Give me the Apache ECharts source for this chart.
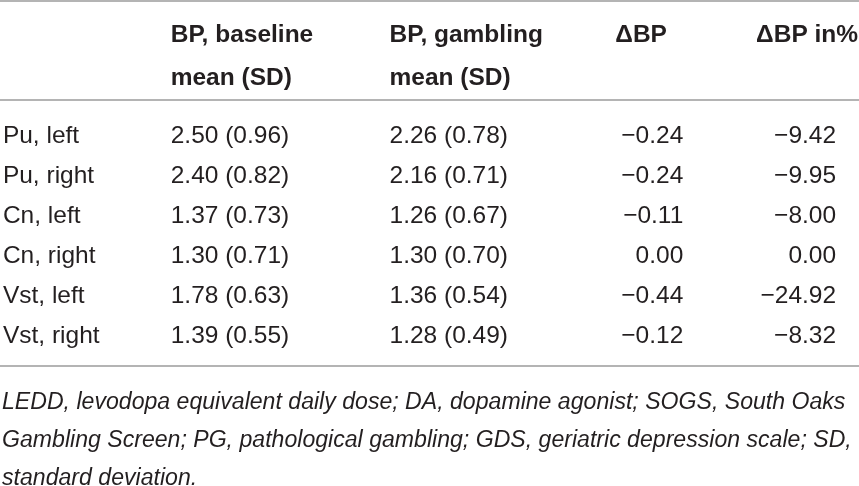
<!DOCTYPE html>
<html>
<head>
<meta charset="utf-8">
<script src="https://cdn.jsdelivr.net/npm/echarts@6/dist/echarts.min.js"></script>
<style>
html,body{margin:0;padding:0;background:#fff;}
#chart{width:859px;height:486px;}
</style>
</head>
<body>
<div id="chart"></div>
<script>
// ---- data ----
const columns = ['Region', 'BP, baseline\nmean (SD)', 'BP, gambling\nmean (SD)', '\u0394BP', '\u0394BP in%'];
const headerLabels = ['', 'BP, baseline\nmean (SD)', 'BP, gambling\nmean (SD)', '\u0394BP\n ', '\u0394BP in%\n '];
const regions = ['Pu, left', 'Pu, right', 'Cn, left', 'Cn, right', 'Vst, left', 'Vst, right'];
const baselineMean = [2.50, 2.40, 1.37, 1.30, 1.78, 1.39];
const baselineSD = [0.96, 0.82, 0.73, 0.71, 0.63, 0.55];
const gamblingMean = [2.26, 2.16, 1.26, 1.30, 1.36, 1.28];
const gamblingSD = [0.78, 0.71, 0.67, 0.70, 0.54, 0.49];
const deltaBP = [-0.24, -0.24, -0.11, 0.00, -0.44, -0.12];
const deltaPct = [-9.42, -9.95, -8.00, 0.00, -24.92, -8.32];
const footnote = 'LEDD, levodopa equivalent daily dose; DA, dopamine agonist; SOGS, South Oaks\nGambling Screen; PG, pathological gambling; GDS, geriatric depression scale; SD,\nstandard deviation.';

// ---- formatting ----
const fmt = v => (v < 0 ? '\u2212' : '') + Math.abs(v).toFixed(2);
const cellText = [
  i => regions[i],
  i => fmt(baselineMean[i]) + ' (' + fmt(baselineSD[i]) + ')',
  i => fmt(gamblingMean[i]) + ' (' + fmt(gamblingSD[i]) + ')',
  i => fmt(deltaBP[i]),
  i => fmt(deltaPct[i])
];

// ---- styles ----
const FONT = '"Liberation Sans", Arial, sans-serif';
const TXT = '#231f20';
const RULE = '#b4b4b4';
const bodyAlign = ['left', 'left', 'left', 'right', 'right'];
const bodyOffset = [-83, -87, -40, 82, 63];
const headAlign = ['left', 'left', 'left', 'left', 'right'];
const headOffset = [-83, -87, -40, 14, 85];

const hiddenCat = (gridIndex, data, extra) => Object.assign({
  type: 'category', gridIndex, data,
  axisLabel: {show: false}, axisTick: {show: false},
  axisLine: {show: false}, splitLine: {show: false}
}, extra || {});

const xAxes = [
  hiddenCat(0, columns, {position: 'top', offset: 6.5, axisLine: {show: true, lineStyle: {color: RULE, width: 2}}}),
  hiddenCat(1, columns, {position: 'top', offset: 16, axisLine: {show: true, lineStyle: {color: RULE, width: 2}}}),
  hiddenCat(1, columns, {position: 'bottom', offset: 10, axisLine: {show: true, lineStyle: {color: RULE, width: 2}}})
];
const yAxes = [
  hiddenCat(0, ['header']),
  hiddenCat(1, regions, {inverse: true})
];

const series = [];
columns.forEach((c, ci) => {
  series.push({
    type: 'scatter', xAxisIndex: 0, yAxisIndex: 0, symbolSize: 0, silent: true,
    itemStyle: {color: TXT, opacity: 1},
    data: [[ci, 0]],
    label: {
      show: true, position: 'inside', formatter: () => headerLabels[ci],
      align: headAlign[ci], verticalAlign: 'middle', offset: [headOffset[ci], 0],
      fontFamily: FONT, fontWeight: 'bold', fontSize: 24.5, lineHeight: 43, color: TXT,
      opacity: 1, textBorderWidth: 0, textBorderColor: 'transparent'
    }
  });
  series.push({
    type: 'scatter', xAxisIndex: 1, yAxisIndex: 1, symbolSize: 0, silent: true,
    itemStyle: {color: TXT, opacity: 1},
    data: regions.map((r, ri) => [ci, ri]),
    label: {
      show: true, position: 'inside', formatter: p => cellText[ci](p.data[1]),
      align: bodyAlign[ci], verticalAlign: 'middle', offset: [bodyOffset[ci], 0],
      fontFamily: FONT, fontSize: 24.5, color: TXT,
      opacity: 1, textBorderWidth: 0, textBorderColor: 'transparent'
    }
  });
});

const chart = echarts.init(document.getElementById('chart'), null, {renderer: 'canvas'});
chart.setOption({
  animation: false,
  backgroundColor: '#fff',
  title: {
    text: footnote, left: 2, top: 379, padding: [5, 0, 0, 0],
    textStyle: {fontFamily: FONT, fontStyle: 'italic', fontWeight: 'normal', fontSize: 23.1, lineHeight: 38, color: TXT}
  },
  grid: [
    {left: 0, right: 0, top: 7.5, height: 99},
    {left: 0, right: 0, top: 116, height: 240}
  ],
  xAxis: xAxes,
  yAxis: yAxes,
  series
});
</script>
</body>
</html>
